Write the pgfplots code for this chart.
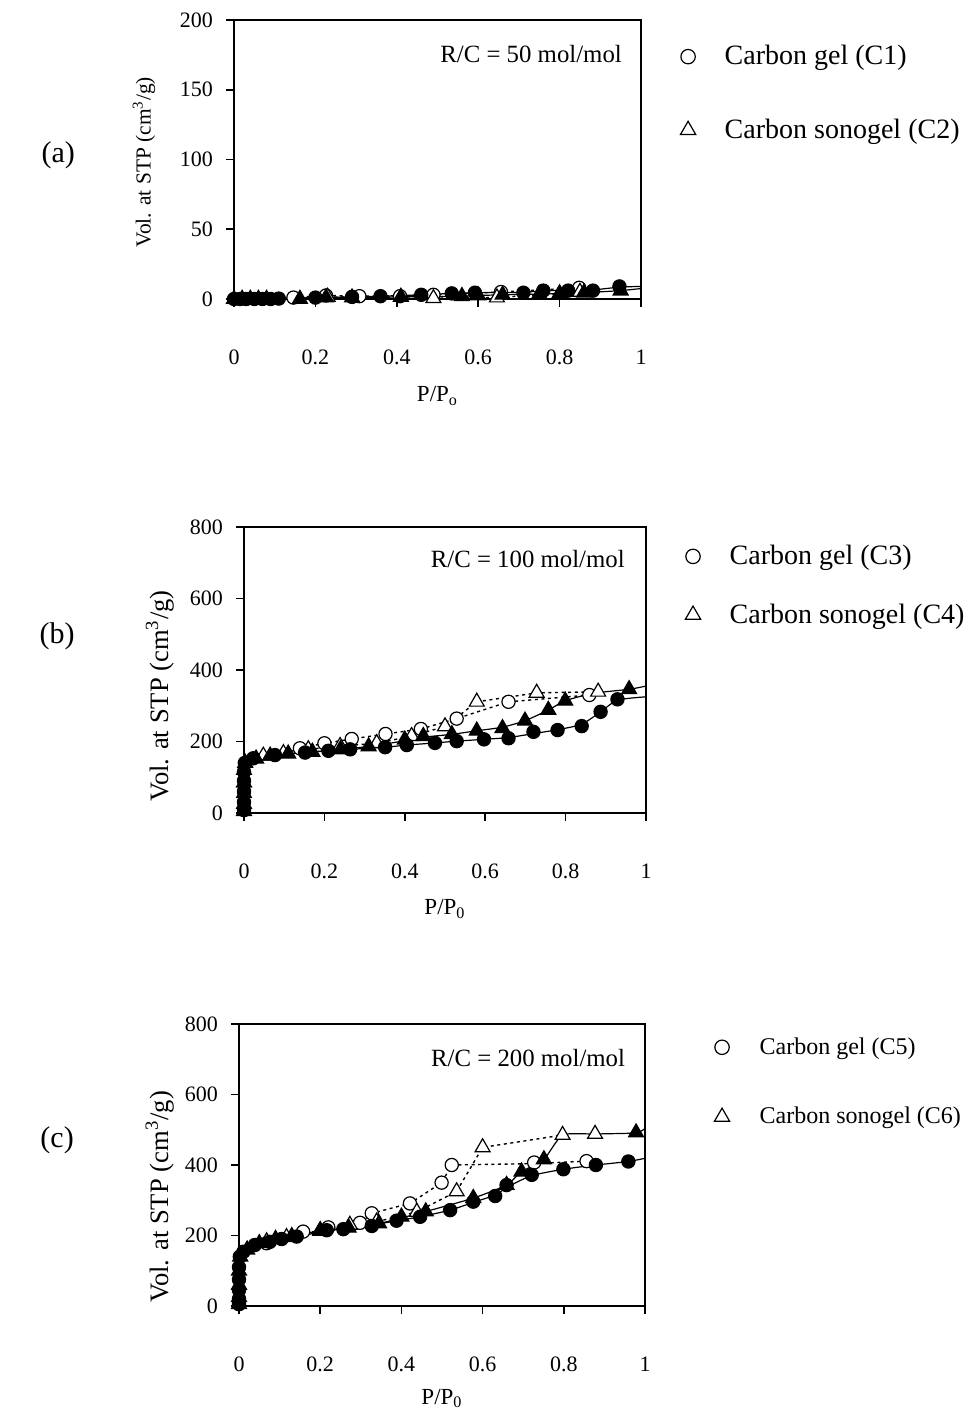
\documentclass[border=0pt]{standalone}
\usepackage{fontspec}
\setmainfont{Liberation Serif}
\usepackage{pgfplots}
\pgfplotsset{compat=1.18}
\tikzset{
  rc/.style={font=\fontsize{12.4}{14}\selectfont},
  pl/.style={font=\fontsize{15}{17}\selectfont},
}
\pgfplotsset{
  panel/.style={
    scale only axis, clip=false, anchor=south west,
    axis line style={line width=0.9pt},
    tick style={line width=0.8pt, black},
    tick align=outside, xtick pos=bottom, ytick pos=left,
    major tick length=4pt,
    xmin=0, xmax=1, ymin=0,
    xtick={0,0.2,0.4,0.6,0.8,1},
    xticklabels={0,0.2,0.4,0.6,0.8,1},
    /pgf/number format/assume math mode=true,
    ticklabel style={font=\fontsize{11}{13}\selectfont},
    xticklabel style={yshift=-18pt},
    yticklabel style={xshift=-3pt},
    xlabel style={anchor=base, font=\fontsize{11.5}{13}\selectfont},
    ylabel style={anchor=center, rotate=0},
    legend cell align=left,
    legend style={draw=none, fill=none, anchor=west, inner sep=0pt,
      font=\fontsize{14}{16}\selectfont,
      /tikz/every odd column/.append style={column sep=12.5pt}},
  },
  adsC/.style={only marks, mark=*, mark size=3.3pt, black, mark options={line width=0.6pt}},
  desC/.style={only marks, mark=*, mark size=3.3pt, black, mark options={fill=white, line width=0.6pt}},
  adsT/.style={only marks, mark=triangle*, mark size=4.3pt, black, mark options={line width=0.6pt}},
  desT/.style={only marks, mark=triangle*, mark size=4.3pt, black, mark options={fill=white, line width=0.6pt}},
  legC/.style={only marks, mark=o, mark size=3.6pt, black, mark options={line width=0.6pt}},
  legT/.style={only marks, mark=triangle, mark size=4.4pt, black, mark options={line width=0.6pt}},
  adsL/.style={no marks, smooth, tension=0.35, black, line width=0.6pt},
  desL/.style={no marks, black, line width=0.7pt, dash pattern=on 1.5pt off 1.8pt},
}
\begin{document}
\begin{tikzpicture}
\useasboundingbox (0,0) rectangle (485pt,706pt);

% ---------------- (a) ----------------
\begin{axis}[panel, at={(117pt,556.5pt)}, width=203.5pt, height=139.5pt,
  ymax=200, ytick={0,50,100,150,200},
  xlabel={P/P\textsubscript{o}},
  xlabel style={at={(axis description cs:0.5,-0.369)}},
  ylabel={Vol. at STP (cm\textsuperscript{3}/g)},
  ylabel style={at={(axis description cs:-0.221,0.49)}, font=\fontsize{10.7}{12}\selectfont},
  legend style={at={(axis description cs:1.096,0.737)}, row sep=21.5pt}]
\addlegendimage{legC}\addlegendentry{Carbon gel (C1)}
\addlegendimage{legT}\addlegendentry{Carbon sonogel (C2)}
\addplot[adsL] coordinates {(0,0)(0.05,0)(0.11,0.3)(0.2,1)(0.29,1.5)(0.36,2)(0.46,3)(0.535,4)(0.592,4.5)(0.711,4.8)(0.76,6)(0.821,6)(0.882,6.5)(0.947,8.5)(1,9)};
\addplot[adsL] coordinates {(0,0)(0.08,0)(0.162,0.3)(0.226,1)(0.29,1)(0.41,1.5)(0.56,2)(0.6,2.5)(0.66,3)(0.75,3.5)(0.8,4)(0.86,4.5)(0.95,6)(1,7.5)};
\addplot[desL] coordinates {(0.146,1)(0.226,2.5)(0.308,2)(0.408,2)(0.49,3)(0.656,5)(0.848,8)};
\addplot[desL] coordinates {(0.23,1.5)(0.49,0.5)(0.646,1)(0.85,5)};
\addplot[desC] coordinates {(0.146,1)(0.226,2.5)(0.308,2)(0.408,2)(0.49,3)(0.656,5)(0.848,8)};
\addplot[desT] coordinates {(0.23,1.5)(0.49,0.5)(0.646,1)(0.85,5)};
\addplot[adsC] coordinates {(0,0)(0.015,0)(0.03,0)(0.05,0)(0.07,0)(0.09,0)(0.11,0.3)(0.2,1)(0.29,1.5)(0.36,2)(0.46,3)(0.535,4)(0.592,4.5)(0.711,4.5)(0.76,6)(0.821,6)(0.882,6)(0.947,9)};
\addplot[adsT] coordinates {(0,0)(0.02,0)(0.04,0)(0.06,0)(0.08,0)(0.162,0)(0.226,1)(0.29,1)(0.41,1.5)(0.56,2)(0.6,2.5)(0.66,3)(0.75,3.5)(0.8,4)(0.86,4.5)(0.95,6)};
\node[rc] at (axis description cs:0.73,0.878) {R/C = 50 mol/mol};
\node[pl] at (axis description cs:-0.432,0.516) {(a)};
\end{axis}

% ---------------- (b) ----------------
\begin{axis}[panel, at={(122pt,299.5pt)}, width=201pt, height=143pt,
  ymax=800, ytick={0,200,400,600,800},
  xlabel={P/P\textsubscript{0}},
  xlabel style={at={(axis description cs:0.5,-0.355)}},
  ylabel={Vol. at STP (cm\textsuperscript{3}/g)},
  ylabel style={at={(axis description cs:-0.209,0.409)}, font=\fontsize{13.3}{15}\selectfont},
  legend style={at={(axis description cs:1.097,0.795)}, row sep=14pt}]
\addlegendimage{legC}\addlegendentry{Carbon gel (C3)}
\addlegendimage{legT}\addlegendentry{Carbon sonogel (C4)}
\addplot[adsL] coordinates {(0,0)(0,60)(0.002,140)(0.023,153)(0.077,162)(0.152,169)(0.21,174)(0.264,178)(0.351,184)(0.405,190)(0.475,196)(0.529,201)(0.597,206)(0.658,211)(0.72,222)(0.78,233)(0.84,248)(0.887,283)(0.929,316)(1,325)};
\addplot[adsL] coordinates {(0,0)(0,60)(0.003,140)(0.03,152)(0.065,160)(0.11,166)(0.17,171)(0.24,178)(0.31,186)(0.4,202)(0.446,212)(0.517,220)(0.579,230)(0.643,240)(0.699,258)(0.757,288)(0.799,314)(0.87,335)(0.958,346)(1,355)};
\addplot[desL] coordinates {(0.1,165)(0.139,181)(0.2,195)(0.268,207)(0.352,221)(0.44,235)(0.529,264)(0.658,311)(0.859,330)};
\addplot[desL] coordinates {(0.048,160)(0.098,167)(0.16,178)(0.239,187)(0.33,195)(0.417,215)(0.5,242)(0.579,311)(0.728,336)(0.881,339)};
\addplot[desC] coordinates {(0.139,181)(0.2,195)(0.268,207)(0.352,221)(0.44,235)(0.529,264)(0.658,311)(0.859,330)};
\addplot[desT] coordinates {(0.048,160)(0.098,167)(0.16,178)(0.239,187)(0.33,195)(0.417,215)(0.5,242)(0.579,311)(0.728,336)(0.881,339)};
\addplot[adsC] coordinates {(0,8)(0,30)(0,60)(0,90)(0,115)(0.002,140)(0.023,153)(0.077,162)(0.152,169)(0.21,174)(0.264,178)(0.351,184)(0.405,190)(0.475,196)(0.529,201)(0.597,206)(0.658,209)(0.72,227)(0.78,232)(0.84,243)(0.887,283)(0.929,318)};
\addplot[adsT] coordinates {(0,5)(0,25)(0,55)(0,85)(0,120)(0.003,140)(0.03,152)(0.065,160)(0.11,166)(0.17,171)(0.24,178)(0.31,186)(0.4,205)(0.446,215)(0.517,220)(0.579,230)(0.643,237)(0.699,258)(0.757,288)(0.799,314)(0.958,346)};
\node[rc] at (axis description cs:0.706,0.888) {R/C = 100 mol/mol};
\node[pl] at (axis description cs:-0.465,0.619) {(b)};
\end{axis}

% ---------------- (c) ----------------
\begin{axis}[panel, at={(119.5pt,53pt)}, width=203pt, height=141pt,
  ymax=800, ytick={0,200,400,600,800},
  xlabel={P/P\textsubscript{0}},
  xlabel style={at={(axis description cs:0.5,-0.348)}},
  ylabel={Vol. at STP (cm\textsuperscript{3}/g)},
  ylabel style={at={(axis description cs:-0.195,0.387)}, font=\fontsize{13.3}{15}\selectfont},
  legend style={at={(axis description cs:1.170,0.794)}, row sep=21pt,
    font=\fontsize{12}{14}\selectfont,
    /tikz/every odd column/.append style={column sep=13pt}}]
\addlegendimage{legC}\addlegendentry{Carbon gel (C5)}
\addlegendimage{legT}\addlegendentry{Carbon sonogel (C6)}
\addplot[adsL] coordinates {(0,0)(0,60)(0.002,140)(0.011,154)(0.039,173)(0.076,182)(0.105,190)(0.142,197)(0.216,213)(0.257,219)(0.327,229)(0.388,242)(0.446,253)(0.52,272)(0.577,294)(0.631,315)(0.665,340)(0.721,370)(0.799,388)(0.879,400)(0.959,410)(1,419)};
\addplot[adsL] coordinates {(0,0)(0,60)(0.003,140)(0.02,160)(0.05,178)(0.09,190)(0.13,198)(0.2,213)(0.27,222)(0.345,234)(0.4,250)(0.46,268)(0.577,306)(0.659,343)(0.696,381)(0.751,416)(0.797,485)(0.877,488)(0.978,491)(1,504)};
\addplot[desL] coordinates {(0.3,236)(0.327,263)(0.421,291)(0.499,350)(0.524,400)(0.727,404)(0.856,411)};
\addplot[desL] coordinates {(0.068,183)(0.117,195)(0.2,215)(0.273,230)(0.339,239)(0.438,267)(0.536,325)(0.6,450)(0.797,485)};
\addplot[desC] coordinates {(0.068,178)(0.158,211)(0.22,223)(0.298,236)(0.327,263)(0.421,291)(0.499,350)(0.524,400)(0.727,407)(0.856,411)};
\addplot[desT] coordinates {(0.068,183)(0.117,195)(0.2,215)(0.273,230)(0.339,239)(0.438,267)(0.536,325)(0.6,450)(0.797,485)(0.877,488)};
\addplot[adsC] coordinates {(0,5)(0,20)(0,45)(0,75)(0,110)(0.002,140)(0.011,154)(0.039,173)(0.076,182)(0.105,190)(0.142,197)(0.216,215)(0.257,218)(0.327,227)(0.388,242)(0.446,253)(0.52,272)(0.577,296)(0.631,312)(0.659,343)(0.721,372)(0.799,388)(0.879,400)(0.959,410)};
\addplot[adsT] coordinates {(0,5)(0,25)(0,60)(0,100)(0.003,140)(0.02,160)(0.05,178)(0.09,190)(0.13,198)(0.2,213)(0.27,222)(0.345,234)(0.4,253)(0.46,268)(0.577,306)(0.659,343)(0.696,381)(0.751,416)(0.978,492)};
\node[rc] at (axis description cs:0.712,0.879) {R/C = 200 mol/mol};
\node[pl] at (axis description cs:-0.448,0.589) {(c)};
\end{axis}
\end{tikzpicture}
\end{document}
